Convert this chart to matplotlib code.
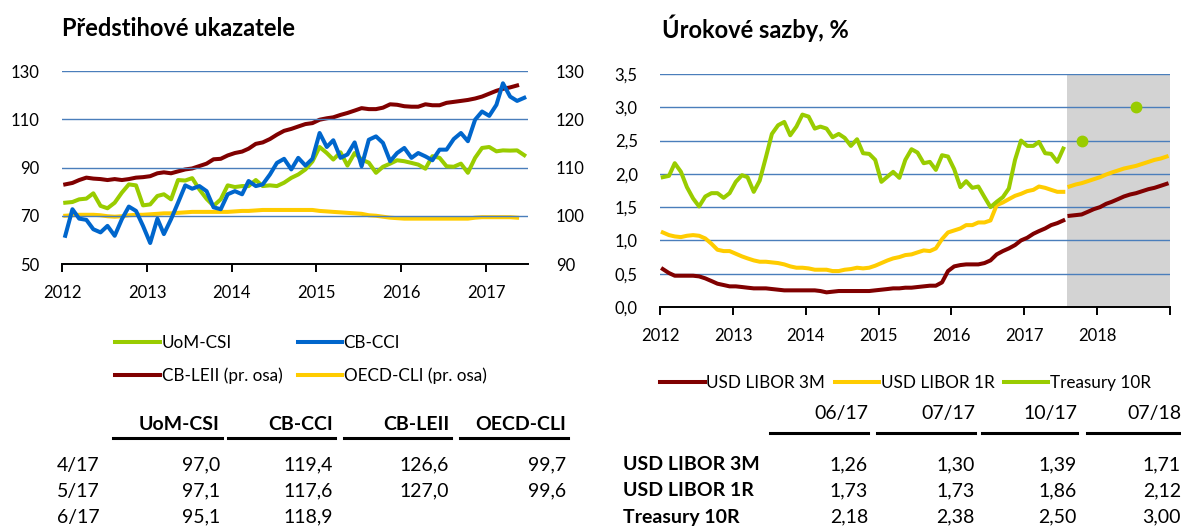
import numpy as np
import pandas as pd
import matplotlib
matplotlib.use('Agg')
import matplotlib.pyplot as plt
from matplotlib.lines import Line2D
from matplotlib.ticker import FuncFormatter, MultipleLocator
import matplotlib.dates as mdates

plt.rcParams['font.family'] = ['Lato', 'DejaVu Sans']

W, H = 1181, 531

# left chart: monthly values from Jan 2012
uom_csi = [75.4, 75.7, 76.8, 77.1, 79.3, 74.1, 73.1, 75.4, 79.6, 83.0, 82.6, 74.3,
           74.7, 78.2, 78.9, 76.8, 84.8, 84.6, 85.6, 80.9, 77.0, 74.1, 76.8, 82.6,
           81.9, 82.3, 82.3, 84.8, 82.3, 82.6, 82.3, 83.7, 85.7, 87.1, 89.2, 92.5,
           98.5, 96.0, 93.3, 96.3, 90.8, 96.0, 93.3, 92.0, 87.8, 90.3, 91.6, 93.0,
           92.6, 91.9, 91.2, 89.5, 94.7, 94.0, 90.5, 90.3, 91.6, 87.8, 94.0, 98.1,
           98.5, 96.7, 97.1, 97.0, 97.1, 95.1]
cb_cci = [61.7, 72.7, 68.8, 68.3, 64.4, 63.1, 65.8, 61.7, 68.6, 73.8, 72.0, 65.8,
          58.7, 68.8, 62.4, 68.6, 75.4, 82.6, 81.2, 82.3, 80.2, 73.5, 72.7, 78.9,
          80.2, 78.9, 84.4, 82.3, 83.0, 87.1, 91.9, 93.6, 89.2, 94.0, 90.8, 93.6,
          104.3, 98.5, 101.3, 94.0, 95.4, 100.4, 90.5, 101.5, 102.9, 100.2, 92.6, 96.0,
          98.1, 94.0, 96.0, 94.6, 93.0, 97.4, 97.4, 101.8, 104.3, 100.9, 109.8, 113.2,
          111.4, 116.0, 124.9, 119.4, 117.6, 118.9]
cb_leii = [106.5, 106.8, 107.4, 107.9, 107.7, 107.6, 107.4, 107.6, 107.4, 107.6, 107.9, 108.0,
           108.2, 108.8, 109.0, 108.8, 109.2, 109.6, 109.8, 110.3, 110.8, 111.7, 111.8, 112.5,
           113.0, 113.3, 113.9, 114.9, 115.2, 115.9, 116.8, 117.6, 118.0, 118.5, 119.0, 119.2,
           119.9, 120.2, 120.4, 120.9, 121.3, 121.8, 122.3, 122.1, 122.1, 122.4, 123.1, 123.0,
           122.7, 122.6, 122.6, 123.1, 122.9, 122.9, 123.4, 123.6, 123.8, 124.0, 124.3, 124.7,
           125.3, 125.9, 126.3, 126.6, 127.0]
oecd_cli = [100.0, 100.1, 100.2, 100.2, 100.2, 100.1, 99.9, 99.8, 99.9, 100.1, 100.2, 100.2,
            100.3, 100.4, 100.5, 100.5, 100.6, 100.7, 100.8, 100.8, 100.8, 100.8, 100.8, 100.8,
            100.9, 101.0, 101.0, 101.1, 101.2, 101.2, 101.2, 101.2, 101.2, 101.2, 101.2, 101.2,
            101.0, 100.9, 100.8, 100.7, 100.6, 100.5, 100.4, 100.1, 100.0, 99.8, 99.6, 99.5,
            99.4, 99.4, 99.4, 99.4, 99.4, 99.4, 99.4, 99.4, 99.4, 99.4, 99.6, 99.7,
            99.7, 99.7, 99.7, 99.7, 99.6]

# right chart: monthly values from Jan 2012 to Jul 2017
libor_3m = [0.57, 0.51, 0.47, 0.47, 0.47, 0.47, 0.46, 0.43, 0.39, 0.35, 0.33, 0.31,
            0.31, 0.30, 0.29, 0.28, 0.28, 0.28, 0.27, 0.26, 0.25, 0.25, 0.25, 0.25,
            0.25, 0.25, 0.24, 0.22, 0.23, 0.24, 0.24, 0.24, 0.24, 0.24, 0.24, 0.25,
            0.26, 0.27, 0.28, 0.28, 0.29, 0.29, 0.30, 0.31, 0.32, 0.32, 0.37, 0.54,
            0.61, 0.63, 0.64, 0.64, 0.64, 0.66, 0.70, 0.79, 0.84, 0.88, 0.93, 1.00,
            1.04, 1.10, 1.14, 1.18, 1.23, 1.26, 1.30]
libor_1r = [1.12, 1.08, 1.06, 1.05, 1.07, 1.08, 1.07, 1.03, 0.95, 0.86, 0.84, 0.84,
            0.80, 0.76, 0.73, 0.70, 0.68, 0.68, 0.67, 0.66, 0.64, 0.61, 0.59, 0.59,
            0.58, 0.56, 0.56, 0.56, 0.54, 0.54, 0.56, 0.57, 0.59, 0.58, 0.59, 0.62,
            0.66, 0.70, 0.73, 0.75, 0.78, 0.79, 0.82, 0.85, 0.84, 0.88, 1.02, 1.12,
            1.15, 1.18, 1.23, 1.23, 1.27, 1.27, 1.30, 1.53, 1.57, 1.62, 1.67, 1.70,
            1.74, 1.76, 1.81, 1.79, 1.76, 1.73, 1.73]
treasury_10r = [1.95, 1.97, 2.16, 2.03, 1.80, 1.63, 1.51, 1.66, 1.71, 1.71, 1.64, 1.71,
                1.88, 1.98, 1.95, 1.73, 1.90, 2.25, 2.60, 2.73, 2.78, 2.58, 2.71, 2.89,
                2.86, 2.68, 2.71, 2.68, 2.55, 2.60, 2.54, 2.42, 2.52, 2.31, 2.30, 2.21,
                1.88, 1.96, 2.03, 1.94, 2.21, 2.37, 2.32, 2.16, 2.18, 2.06, 2.28, 2.26,
                2.07, 1.80, 1.89, 1.79, 1.81, 1.65, 1.50, 1.58, 1.65, 1.78, 2.21, 2.50,
                2.42, 2.42, 2.48, 2.31, 2.30, 2.18, 2.38]
# forecasts Aug 2017 - Dec 2018
libor_3m_fc = [1.37, 1.38, 1.39, 1.43, 1.47, 1.50, 1.55, 1.58, 1.62, 1.66, 1.69, 1.71,
               1.74, 1.77, 1.79, 1.82, 1.85]
libor_1r_fc = [1.81, 1.84, 1.86, 1.89, 1.92, 1.95, 1.99, 2.02, 2.05, 2.08, 2.10, 2.12,
               2.15, 2.18, 2.21, 2.23, 2.26]
treasury_fc_months = ['2017-10-01', '2018-07-01']
treasury_fc = [2.50, 3.00]

# tables
left_tab_rows = ['4/17', '5/17', '6/17']
left_tab_cols = ['UoM-CSI', 'CB-CCI', 'CB-LEII', 'OECD-CLI']
tab_uom = [97.0, 97.1, 95.1]
tab_cci = [119.4, 117.6, 118.9]
tab_leii = [126.6, 127.0, None]
tab_oecd = [99.7, 99.6, None]

right_tab_cols = ['06/17', '07/17', '10/17', '07/18']
right_tab_rows = ['USD LIBOR 3M', 'USD LIBOR 1R', 'Treasury 10R']
tab_3m = [1.26, 1.30, 1.39, 1.71]
tab_1r = [1.73, 1.73, 1.86, 2.12]
tab_t10 = [2.18, 2.38, 2.50, 3.00]

GREEN = '#99CC00'
BLUE = '#0066CC'
RED = '#800000'
YELLOW = '#FFCC00'
GRID = '#4A7EBB'
TICK_FS = 12


def months(start, n):
    return pd.date_range(start, periods=n, freq='MS') + pd.Timedelta(days=14)


def comma(v, nd):
    return f'{v:.{nd}f}'.replace('.', ',')


def style(ax):
    for s in ['top', 'left', 'right']:
        ax.spines[s].set_visible(False)
    ax.spines['bottom'].set_linewidth(1.4)
    ax.spines['bottom'].set_color('black')
    ax.grid(axis='y', color=GRID, lw=1.0)
    ax.set_axisbelow(True)
    ax.tick_params(axis='y', length=0, labelsize=TICK_FS, pad=16)
    ax.tick_params(axis='x', direction='out', length=6, width=1.4, labelsize=TICK_FS, pad=9)
    ax.xaxis.set_major_locator(mdates.YearLocator())
    ax.xaxis.set_major_formatter(mdates.DateFormatter('%Y'))


def px(x, y):
    return x / W, 1 - y / H


fig = plt.figure(figsize=(W / 100, H / 100), dpi=100)

# ---------------- left chart
ax1 = fig.add_axes([62 / W, 1 - 264 / H, (528 - 62) / W, (264 - 71) / H])
style(ax1)
ax1.set_ylim(50, 130)
ax1.set_yticks(np.arange(50, 131, 20))
ax1.set_xlim(pd.Timestamp('2012-01-01'), pd.Timestamp('2017-07-01'))
ax1b = ax1.twinx()
for s in ['top', 'left', 'right', 'bottom']:
    ax1b.spines[s].set_visible(False)
ax1b.set_ylim(90, 130)
ax1b.yaxis.set_major_locator(MultipleLocator(10))
ax1b.tick_params(axis='y', length=0, labelsize=TICK_FS, pad=20)

lw = 2.9
l_oecd, = ax1b.plot(months('2012-01-01', len(oecd_cli)), oecd_cli, color=YELLOW, lw=lw,
                    label='OECD-CLI (pr. osa)')
l_leii, = ax1b.plot(months('2012-01-01', len(cb_leii)), cb_leii, color=RED, lw=lw,
                    label='CB-LEII (pr. osa)')
ax1.set_zorder(ax1b.get_zorder() + 1)
ax1.patch.set_visible(False)
l_uom, = ax1.plot(months('2012-01-01', len(uom_csi)), uom_csi, color=GREEN, lw=lw, label='UoM-CSI')
l_cci, = ax1.plot(months('2012-01-01', len(cb_cci)), cb_cci, color=BLUE, lw=lw, label='CB-CCI')

fig.text(*px(62, 28), 'Předstihové ukazatele', fontsize=17, fontweight='bold', va='center')
fig.legend(handles=[l_uom, l_leii, l_cci, l_oecd], loc='upper left',
           bbox_to_anchor=px(100, 320), ncol=2, frameon=False, fontsize=12.3,
           handlelength=2.6, handletextpad=0.1, columnspacing=0.9, labelspacing=0.95)

# ---------------- right chart
ax2 = fig.add_axes([660 / W, 1 - 307 / H, (1170 - 660) / W, (307 - 74) / H])
style(ax2)
ax2.set_ylim(0, 3.5)
ax2.yaxis.set_major_locator(MultipleLocator(0.5))
ax2.yaxis.set_major_formatter(FuncFormatter(lambda v, p: comma(v, 1)))
ax2.set_xlim(pd.Timestamp('2012-01-01'), pd.Timestamp('2019-01-01'))
ax2.xaxis.set_major_formatter(FuncFormatter(
    lambda v, p: '' if mdates.num2date(v).year > 2018 else str(mdates.num2date(v).year)))
ax2.axvspan(pd.Timestamp('2017-08-01'), pd.Timestamp('2019-01-01'), color='#D3D3D3', lw=0, zorder=0)

hist = months('2012-01-01', len(libor_3m))
fc = months('2017-08-01', len(libor_3m_fc))
r3, = ax2.plot(hist, libor_3m, color=RED, lw=lw, label='USD LIBOR 3M')
ax2.plot(fc, libor_3m_fc, color=RED, lw=lw)
r1, = ax2.plot(hist, libor_1r, color=YELLOW, lw=lw, label='USD LIBOR 1R')
ax2.plot(fc, libor_1r_fc, color=YELLOW, lw=lw)
t10, = ax2.plot(hist, treasury_10r, color=GREEN, lw=lw, label='Treasury 10R')
ax2.plot(pd.to_datetime(treasury_fc_months) + pd.Timedelta(days=14), treasury_fc,
         'o', color=GREEN, ms=7.5)

fig.text(*px(662, 28), 'Úrokové sazby, %', fontsize=17, fontweight='bold', va='center')
fig.legend(handles=[r3, r1, t10], loc='upper left', bbox_to_anchor=px(645, 360), ncol=3,
           frameon=False, fontsize=12.3, handlelength=2.6, handletextpad=0.1, columnspacing=0.55)

# ---------------- left table
TAB_FS = 14
col_right = [220, 333, 449, 566]
col_left = [113, 228, 344, 460]
for j, name in enumerate(left_tab_cols):
    fig.text(*px(col_right[j], 424), name, fontsize=TAB_FS, fontweight='bold', ha='right', va='center')
    fig.add_artist(Line2D([col_left[j] / W, (col_right[j] + 2) / W], [1 - 438 / H] * 2,
                          color='black', lw=2.2))
row_y = [465, 491, 517]
for i, r in enumerate(left_tab_rows):
    fig.text(*px(57, row_y[i]), r, fontsize=TAB_FS, va='center')
    for j, col in enumerate([tab_uom, tab_cci, tab_leii, tab_oecd]):
        if col[i] is not None:
            fig.text(*px(col_right[j], row_y[i]), comma(col[i], 1), fontsize=TAB_FS,
                     ha='right', va='center')

# ---------------- right table
rcol_right = [868, 975, 1077, 1181]
rcol_left = [770, 877, 982, 1087]
for j, name in enumerate(right_tab_cols):
    fig.text(*px(rcol_right[j], 414), name, fontsize=TAB_FS, ha='right', va='center')
    fig.add_artist(Line2D([rcol_left[j] / W, rcol_right[j] / W], [1 - 433 / H] * 2,
                          color='black', lw=2.2))
for i, r in enumerate(right_tab_rows):
    fig.text(*px(623, row_y[i]), r, fontsize=TAB_FS, fontweight='bold', va='center')
for i, row in enumerate([tab_3m, tab_1r, tab_t10]):
    for j, v in enumerate(row):
        fig.text(*px(rcol_right[j], row_y[i]), comma(v, 2), fontsize=TAB_FS, ha='right', va='center')

fig.savefig('out.png', dpi=100)
